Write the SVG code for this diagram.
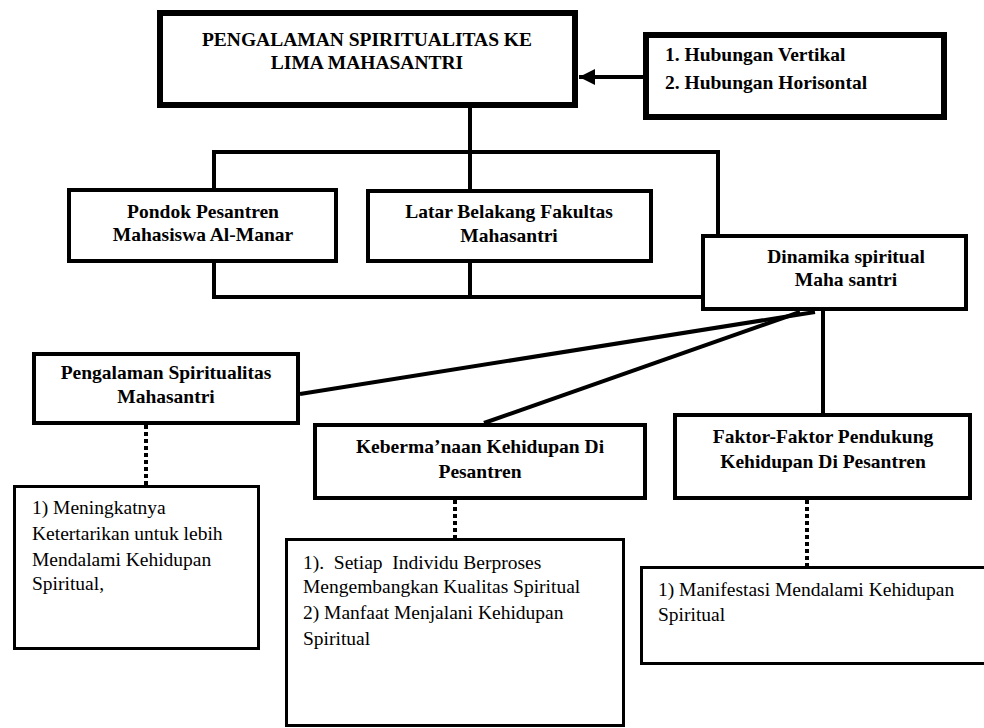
<svg xmlns="http://www.w3.org/2000/svg" width="984" height="728" viewBox="0 0 984 728">
<defs>
<marker id="ah" markerUnits="userSpaceOnUse" markerWidth="18" markerHeight="18" refX="16" refY="8" orient="auto">
<path d="M0,0 L16,8 L0,16 Z" fill="#000"/>
</marker>
<style>
.bx{fill:#fff;stroke:#000;stroke-linejoin:miter}
.b6{stroke-width:6}
.b4{stroke-width:4}
.b3{stroke-width:3}
.ln{fill:none;stroke:#000;stroke-width:4;stroke-linejoin:miter}
.dot{fill:none;stroke:#000;stroke-width:4;stroke-dasharray:4 3}
.h{font-family:"Liberation Serif","Times New Roman",serif;font-weight:bold;font-size:19.5px;fill:#000;text-anchor:middle}
.hl{font-family:"Liberation Serif","Times New Roman",serif;font-weight:bold;font-size:19.5px;fill:#000}
.t{font-family:"Liberation Serif","Times New Roman",serif;font-size:19.5px;fill:#000;white-space:pre}
</style>
</defs>
<rect width="984" height="728" fill="#fff"/>
<g id="connectors">
<line class="ln" x1="470" y1="108" x2="470" y2="189"/>
<polyline class="ln" points="214,189 214,152 718,152 718,234"/>
<polyline class="ln" points="214,263 214,297 702,297"/>
<line class="ln" x1="470" y1="263" x2="470" y2="297"/>
<line class="ln" x1="643" y1="77" x2="579" y2="77" stroke-width="5" marker-end="url(#ah)"/>
<line class="ln" x1="815" y1="312" x2="300" y2="394"/>
<line class="ln" x1="800" y1="312" x2="484" y2="423"/>
<line class="ln" x1="823" y1="311" x2="823" y2="413"/>
<line class="dot" x1="146" y1="425" x2="146" y2="485"/>
<line class="dot" x1="455" y1="500" x2="455" y2="538"/>
<line class="dot" x1="807" y1="500" x2="807" y2="566"/>
</g>
<g id="top">
<rect class="bx b6" x="160" y="13" width="415" height="92"/>
<text class="h" x="367" y="46">PENGALAMAN SPIRITUALITAS KE</text>
<text class="h" x="367" y="69">LIMA MAHASANTRI</text>
</g>
<g id="hubungan">
<rect class="bx b6" x="646" y="35" width="298" height="82"/>
<text class="hl" x="665" y="61">1. Hubungan Vertikal</text>
<text class="hl" x="665" y="89">2. Hubungan Horisontal</text>
</g>
<g id="pondok">
<rect class="bx b4" x="69" y="190" width="267" height="71"/>
<text class="h" x="203" y="218">Pondok Pesantren</text>
<text class="h" x="203" y="241">Mahasiswa Al-Manar</text>
</g>
<g id="latar">
<rect class="bx b4" x="368" y="191" width="283" height="70"/>
<text class="h" x="509" y="218">Latar Belakang Fakultas</text>
<text class="h" x="509" y="242">Mahasantri</text>
</g>
<g id="dinamika">
<rect class="bx b4" x="703" y="236" width="263" height="73"/>
<text class="h" x="846" y="263">Dinamika spiritual</text>
<text class="h" x="846" y="286">Maha santri</text>
</g>
<g id="pengalaman">
<rect class="bx b4" x="34" y="354" width="264" height="69"/>
<text class="h" x="166" y="379">Pengalaman Spiritualitas</text>
<text class="h" x="166" y="403">Mahasantri</text>
</g>
<g id="keberma">
<rect class="bx b4" x="315" y="425" width="330" height="73"/>
<text class="h" x="480" y="453">Keberma’naan Kehidupan Di</text>
<text class="h" x="480" y="478">Pesantren</text>
</g>
<g id="faktor">
<rect class="bx b4" x="675" y="415" width="295" height="83"/>
<text class="h" x="823" y="443">Faktor-Faktor Pendukung</text>
<text class="h" x="823" y="468">Kehidupan Di Pesantren</text>
</g>
<g id="list1">
<rect class="bx b3" x="14.5" y="486.5" width="244" height="162"/>
<text class="t" x="32" y="514">1) Meningkatnya</text>
<text class="t" x="32" y="540">Ketertarikan untuk lebih</text>
<text class="t" x="32" y="566">Mendalami Kehidupan</text>
<text class="t" x="32" y="590">Spiritual,</text>
</g>
<g id="list2">
<rect class="bx b3" x="286.5" y="539.5" width="337" height="186"/>
<text class="t" x="303" y="569">1).  Setiap  Individu Berproses</text>
<text class="t" x="303" y="593">Mengembangkan Kualitas Spiritual</text>
<text class="t" x="303" y="619">2) Manfaat Menjalani Kehidupan</text>
<text class="t" x="303" y="645">Spiritual</text>
</g>
<g id="list3">
<rect class="bx b3" x="641.5" y="567.5" width="350" height="96"/>
<text class="t" x="658" y="596">1) Manifestasi Mendalami Kehidupan</text>
<text class="t" x="658" y="621">Spiritual</text>
</g>
</svg>
